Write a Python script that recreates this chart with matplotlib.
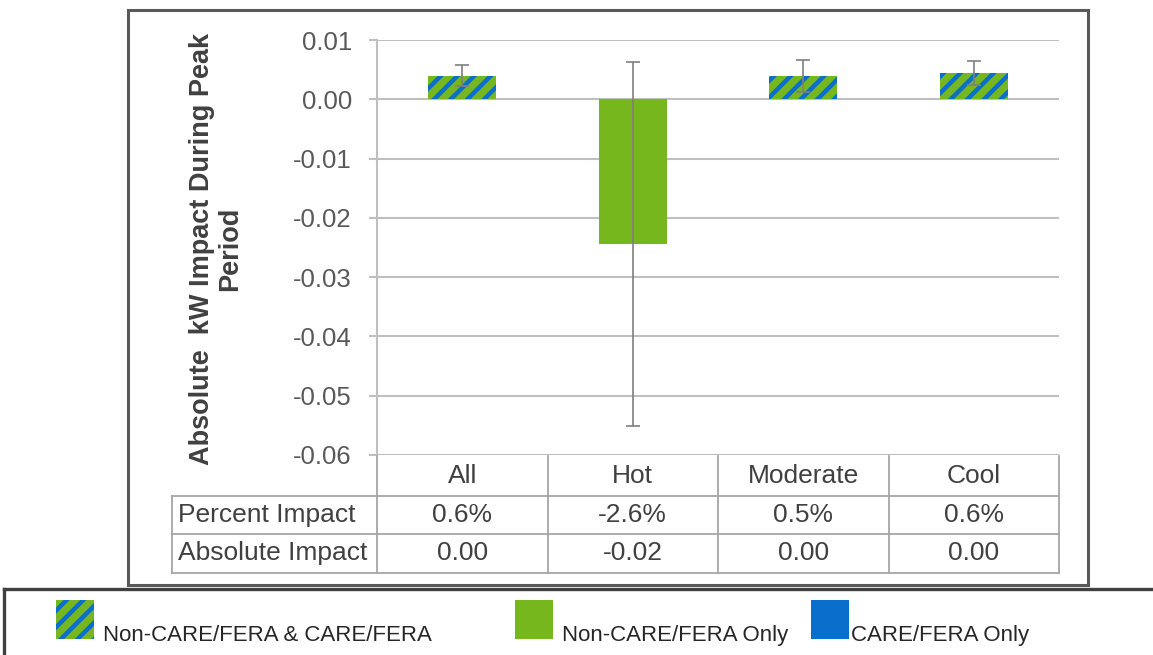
import numpy as np
import matplotlib
matplotlib.use('Agg')
import matplotlib.pyplot as plt
import matplotlib.transforms as mtransforms
from matplotlib.lines import Line2D
from matplotlib.patches import Rectangle

plt.rcParams['font.family'] = ['Liberation Sans', 'DejaVu Sans']
plt.rcParams['hatch.linewidth'] = 3.2

categories = ['All', 'Hot', 'Moderate', 'Cool']
impact = [0.0040, -0.0244, 0.0039, 0.0044]
err = [0.0017, 0.0307, 0.0027, 0.0020]
both_groups = [True, False, True, True]
pct_impact = ['0.6%', '-2.6%', '0.5%', '0.6%']
abs_impact = ['0.00', '-0.02', '0.00', '0.00']
row_labels = ['Percent Impact', 'Absolute Impact']
legend_labels = ['Non-CARE/FERA & CARE/FERA', 'Non-CARE/FERA Only', 'CARE/FERA Only']

green = '#76B71E'
blue = '#0A6FCC'
txt = '#404040'
grid = '#BFBFBF'
tline = '#A6A6A6'

W, H = 1153, 655
fig = plt.figure(figsize=(W / 100, H / 100), dpi=100)


def fx(px):
    return px / W


def fy(py):
    return 1 - py / H


ax = fig.add_axes([fx(377), fy(455), fx(1059) - fx(377), fy(40) - fy(455)])

x = np.arange(len(categories))
for i in range(len(categories)):
    if both_groups[i]:
        ax.bar(x[i], impact[i], width=0.4, color=green, edgecolor=blue,
               hatch='//', linewidth=0, zorder=2)
    else:
        ax.bar(x[i], impact[i], width=0.4, color=green, linewidth=0, zorder=2)
ax.errorbar(x, impact, yerr=err, fmt='none', ecolor='#7F7F7F', elinewidth=1.2,
            capsize=5, capthick=1.2, zorder=3)

ax.set_xlim(-0.5, len(categories) - 0.5)
ax.set_ylim(-0.06, 0.01)
ax.set_yticks(np.arange(-0.06, 0.0101, 0.01))
ax.set_yticklabels(['%.2f' % v for v in np.arange(-0.06, 0.0101, 0.01)])
ax.yaxis.grid(True, color=grid, linewidth=1.5, zorder=0)
ax.set_axisbelow(True)
ax.set_xticks([])
for s in ['top', 'right', 'bottom']:
    ax.spines[s].set_visible(False)
ax.spines['left'].set_color(grid)
ax.spines['left'].set_linewidth(1.5)
ax.tick_params(axis='y', colors=grid, labelcolor='#595959', labelsize=18.5,
               length=6, width=1.5, pad=12)

fig.text(fx(216), fy(249), 'Absolute  kW Impact During Peak\nPeriod', rotation=90,
         ha='center', va='center', fontsize=19.5, fontweight='bold', color=txt,
         linespacing=1.1)

# data table under the chart
tr = mtransforms.blended_transform_factory(ax.transData, fig.transFigure)
rows_y = [456, 496, 534, 573]
edges = np.arange(len(categories) + 1) - 0.5
for e in edges:
    fig.add_artist(Line2D([e, e], [fy(rows_y[0]), fy(rows_y[-1])], transform=tr,
                          color=tline, lw=1.3))
for py in rows_y[1:]:
    fig.add_artist(Line2D([fx(172), fx(1059)], [fy(py), fy(py)],
                          transform=fig.transFigure, color=tline, lw=1.3))
fig.add_artist(Line2D([fx(172), fx(172)], [fy(496), fy(573)],
                      transform=fig.transFigure, color=tline, lw=1.3))

for i, c in enumerate(categories):
    fig.text(x[i], fy(476), c, transform=tr, ha='center', va='center',
             fontsize=19, color=txt)
    fig.text(x[i], fy(515), pct_impact[i], transform=tr, ha='center',
             va='center', fontsize=19, color=txt)
    fig.text(x[i], fy(553), abs_impact[i], transform=tr, ha='center',
             va='center', fontsize=19, color=txt)
fig.text(fx(178), fy(515), row_labels[0], ha='left', va='center', fontsize=19, color=txt)
fig.text(fx(178), fy(553), row_labels[1], ha='left', va='center', fontsize=19, color=txt)

# chart frame and legend box
fig.add_artist(Rectangle((fx(128), fy(585)), fx(1088) - fx(128), fy(10) - fy(585),
                         transform=fig.transFigure, fill=False,
                         edgecolor='#595959', lw=2.2))
fig.add_artist(Line2D([fx(4), 1.0], [fy(589), fy(589)], transform=fig.transFigure,
                      color='#404040', lw=2.4))
fig.add_artist(Line2D([fx(4), fx(4)], [fy(589), 0], transform=fig.transFigure,
                      color='#404040', lw=2.4))

leg_box_x = [56, 515, 811]
leg_text_x = [103, 562, 851]
for j in range(3):
    if j == 0:
        p = Rectangle((fx(leg_box_x[j]), fy(639)), fx(38), fy(600) - fy(639),
                      transform=fig.transFigure, facecolor=green, edgecolor=blue,
                      hatch='//', lw=0)
    else:
        col = green if j == 1 else blue
        p = Rectangle((fx(leg_box_x[j]), fy(639)), fx(38), fy(600) - fy(639),
                      transform=fig.transFigure, facecolor=col, lw=0)
    fig.add_artist(p)
    fig.text(fx(leg_text_x[j]), fy(641), legend_labels[j], ha='left', va='baseline',
             fontsize=16, color='#262626')

fig.savefig('out.png', dpi=100)
